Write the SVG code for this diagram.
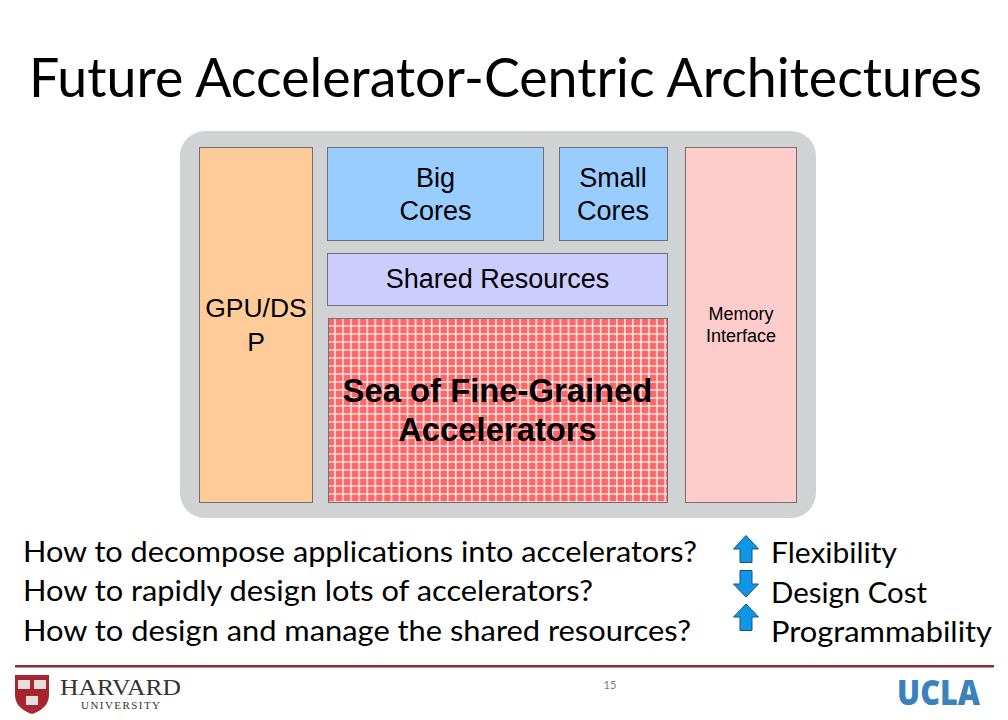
<svg xmlns="http://www.w3.org/2000/svg" width="1008" height="720" viewBox="0 0 1008 720">
<style>
.box{stroke:#6f6f6f;stroke-width:1}
.a{font-family:"Liberation Sans",Arial,sans-serif;fill:#000;text-anchor:middle}
.c{font-family:Lato,"Open Sans",sans-serif;fill:#000;font-variant-ligatures:none}
.arr{fill:#0e97e8;stroke:#1f4e79;stroke-width:1}
</style>
<defs>
<pattern id="grid" x="328" y="319" width="8.05" height="8" patternUnits="userSpaceOnUse">
<rect width="8.05" height="8" fill="#ff6666"/>
<path d="M7 0V8M0 7H8.05" stroke="#fbe3e3" stroke-width="1.6"/>
</pattern>
</defs>
<rect width="1008" height="720" fill="#fff"/>
<text class="c" x="29" y="97" font-size="54" textLength="953" lengthAdjust="spacingAndGlyphs">Future Accelerator-Centric Architectures</text>
<rect id="chip" x="180" y="131" width="636" height="387" rx="25" fill="#d1d2d4"/>
<g id="gpu"><rect class="box" x="199.500" y="147.500" width="113" height="355" fill="#ffcc99"/>
<text class="a" font-size="26.500" x="256" y="317">GPU/DS</text><text class="a" font-size="26.500" x="256" y="351">P</text></g>
<g id="big"><rect class="box" x="327.500" y="147.500" width="216" height="93" fill="#99ccff"/>
<text class="a" font-size="27" x="435.500" y="187">Big</text><text class="a" font-size="27" x="435.500" y="220">Cores</text></g>
<g id="small"><rect class="box" x="559.500" y="147.500" width="108" height="93" fill="#99ccff"/>
<text class="a" font-size="27" x="613" y="187">Small</text><text class="a" font-size="27" x="613" y="220">Cores</text></g>
<g id="shared"><rect class="box" x="327.500" y="253.500" width="340" height="52" fill="#ccccff"/>
<text class="a" font-size="27" x="497.500" y="288">Shared Resources</text></g>
<g id="sea"><rect class="box" x="328.500" y="318.500" width="339" height="184" fill="url(#grid)"/>
<text class="a" font-size="32.800" font-weight="bold" x="497.500" y="402">Sea of Fine-Grained</text>
<text class="a" font-size="32.800" font-weight="bold" x="497.500" y="441">Accelerators</text></g>
<g id="memory"><rect class="box" x="685.500" y="147.500" width="111" height="355" fill="#ffcccc"/>
<text class="a" font-size="18" x="741" y="320">Memory</text><text class="a" font-size="18" x="741" y="342">Interface</text></g>
<g id="questions">
<text class="c" x="23" y="562" font-size="28" textLength="674" lengthAdjust="spacingAndGlyphs">How to decompose applications into accelerators?</text>
<text class="c" x="23" y="601" font-size="28" textLength="570" lengthAdjust="spacingAndGlyphs">How to rapidly design lots of accelerators?</text>
<text class="c" x="23" y="641" font-size="28" textLength="668" lengthAdjust="spacingAndGlyphs">How to design and manage the shared resources?</text>
</g>
<g id="metrics">
<path class="arr" d="M746 535.500L758.500 549H752V562.500H740V549H733.500Z"/>
<path class="arr" d="M740 570.500H752V584H758.500L746 597L733.500 584H740Z"/>
<path class="arr" d="M746 604L758.500 617H752V630.500H740V617H733.500Z"/>
<text class="c" x="771" y="563" font-size="28" textLength="126" lengthAdjust="spacingAndGlyphs">Flexibility</text>
<text class="c" x="771" y="603" font-size="28" textLength="156" lengthAdjust="spacingAndGlyphs">Design Cost</text>
<text class="c" x="771" y="642" font-size="28" textLength="221" lengthAdjust="spacingAndGlyphs">Programmability</text>
</g>
<rect id="rule" x="15" y="665" width="979" height="2.500" fill="#8c2a2e"/>
<g id="harvard">
<path d="M15 675H49V695Q49 708 32 714Q15 708 15 695Z" fill="#a6252f"/>
<rect x="18" y="680" width="12" height="9" fill="#e8dcdc"/><rect x="34" y="680" width="12" height="9" fill="#e8dcdc"/><rect x="26" y="696" width="12" height="9" fill="#e8dcdc"/>
<text x="60" y="695" font-family="Liberation Serif,serif" font-size="23" fill="#333" textLength="121" lengthAdjust="spacingAndGlyphs">HARVARD</text>
<text x="81" y="709" font-family="Liberation Serif,serif" font-size="11" fill="#333" textLength="79">UNIVERSITY</text>
</g>
<text id="page" x="610" y="689" font-family="Lato,sans-serif" font-size="11" fill="#7a7a7a" text-anchor="middle">15</text>
<text id="ucla" x="897" y="705" font-family="Open Sans,sans-serif" font-size="35" font-weight="800" fill="#3b82bd" textLength="83" lengthAdjust="spacingAndGlyphs" transform="translate(0 0)">UCLA</text>
</svg>
